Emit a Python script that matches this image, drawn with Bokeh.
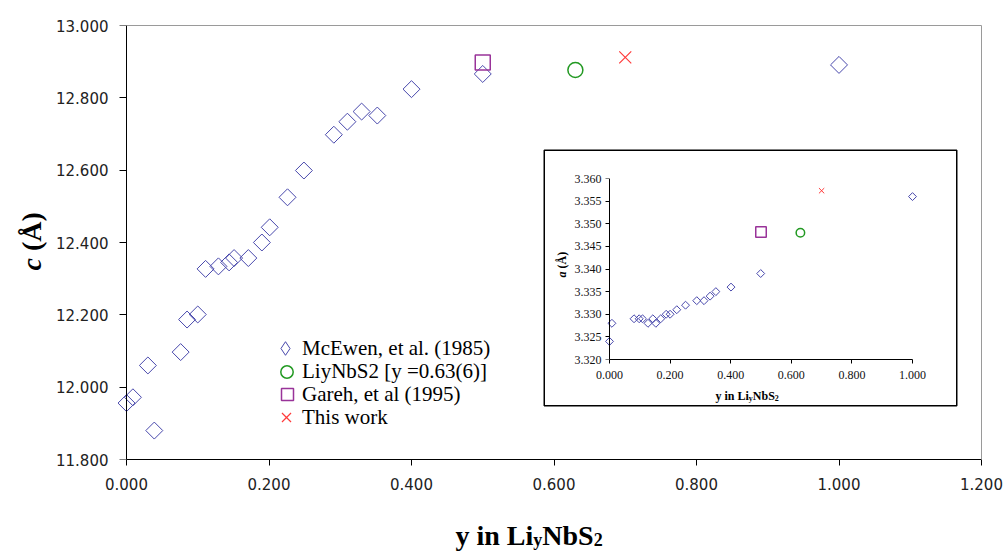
import numpy as np
from bokeh.plotting import figure
from bokeh.models import (FixedTicker, PrintfTickFormatter, Legend, LegendItem, Label,
                          BoxAnnotation, GridBox, LinearAxis, Range1d)
from bokeh.embed import file_html
from bokeh.resources import INLINE

# ---------------- data (main chart) ----------------
mc_y = [0.000, 0.009, 0.030, 0.039, 0.076, 0.085, 0.100, 0.111, 0.129, 0.144, 0.151, 0.171,
        0.190, 0.201, 0.226, 0.249, 0.291, 0.310, 0.330, 0.352, 0.400, 0.500, 1.000]
mc_c = [11.956, 11.972, 12.060, 11.880, 12.097, 12.187, 12.201, 12.327, 12.334, 12.345, 12.357,
        12.357, 12.400, 12.442, 12.525, 12.599, 12.698, 12.734, 12.762, 12.751, 12.824, 12.866, 12.891]
li_y = [0.630]
li_c = [12.877]
ga_y = [0.500]
ga_c = [12.898]
tw_y = [0.700]
tw_c = [12.912]

# ---------------- data (inset) ----------------
in_mc_y = [0.000, 0.008, 0.081, 0.098, 0.109, 0.127, 0.143, 0.153, 0.169, 0.187, 0.200, 0.222,
           0.251, 0.288, 0.312, 0.332, 0.351, 0.401, 0.499, 1.000]
in_mc_a = [3.324, 3.328, 3.329, 3.329, 3.329, 3.328, 3.329, 3.328, 3.329, 3.330, 3.330, 3.331,
           3.332, 3.333, 3.333, 3.334, 3.335, 3.336, 3.339, 3.356]
in_li_y = [0.630]
in_li_a = [3.348]
in_ga_y = [0.500]
in_ga_a = [3.3482]
in_tw_y = [0.700]
in_tw_a = [3.3573]

# ---------------- ticks / labels ----------------
x_ticks = [0.0, 0.2, 0.4, 0.6, 0.8, 1.0, 1.2]
c_ticks = [11.8, 12.0, 12.2, 12.4, 12.6, 12.8, 13.0]
in_x_ticks = [0.0, 0.2, 0.4, 0.6, 0.8, 1.0]
in_a_ticks = [3.320, 3.325, 3.330, 3.335, 3.340, 3.345, 3.350, 3.355, 3.360]
legend_labels = ["McEwen, et al. (1985)", "LiyNbS2 [y =0.63(6)]", "Gareh, et al (1995)", "This work"]

MC = "#4848ac"
LI = "#229922"
GA = "#993399"
TW = "#ff3b3b"
SERIF = "Liberation Serif"
SANS = "DejaVu Sans"

OFF = 8            # page offset of the canvases (leading grid track)

# ---------------- main figure ----------------
W, H = 996, 545
ML, MR, MT, MB = 108, 23, 17, 94
XU = 712.5                       # px per unit of y (Li content)
x_pad = 10 / XU
p = figure(width=W, height=H, x_range=(-x_pad, 1.2), y_range=(11.8, 13.0),
           min_border_left=ML, min_border_right=MR, min_border_top=MT, min_border_bottom=MB,
           output_backend="svg", toolbar_location=None)
p.background_fill_color = "white"
p.border_fill_color = "white"
p.outline_line_color = None
p.xgrid.grid_line_color = None
p.ygrid.grid_line_color = None

xa = p.xaxis[0]
ya = p.yaxis[0]
for ax in (xa, ya):
    ax.major_tick_in = 0
    ax.minor_tick_in = 0
    ax.minor_tick_out = 0
    ax.major_label_text_font = SANS
    ax.major_label_text_font_size = "15px"
    ax.major_label_text_color = "#222222"
    ax.formatter = PrintfTickFormatter(format="%.3f")
xa.axis_line_color = "black"
xa.major_tick_line_color = "black"
xa.ticker = FixedTicker(ticks=x_ticks)
xa.bounds = (0, 1.2)
xa.major_tick_out = 6
xa.major_label_standoff = 12
# left axis at the frame edge: labels only
ya.ticker = FixedTicker(ticks=c_ticks)
ya.axis_line_color = None
ya.major_tick_line_color = None
ya.major_tick_out = 0
ya.major_label_standoff = 8
# axis line + ticks at y = 0
y_line = LinearAxis(ticker=FixedTicker(ticks=c_ticks), fixed_location=0, axis_line_color="black",
                    major_tick_line_color="black", major_tick_out=7, major_tick_in=0,
                    minor_tick_out=0, minor_tick_in=0, major_label_text_font_size="1px",
                    major_label_text_alpha=0, major_label_standoff=0)
p.add_layout(y_line, "left")

top_ax = LinearAxis(ticker=FixedTicker(ticks=[]), axis_line_color="#9a9a9a", major_tick_out=0,
                    major_tick_in=0, minor_tick_out=0, minor_tick_in=0, bounds=(0, 1.2),
                    major_label_text_alpha=0)
right_ax = LinearAxis(ticker=FixedTicker(ticks=[]), axis_line_color="#9a9a9a", major_tick_out=0,
                      major_tick_in=0, minor_tick_out=0, minor_tick_in=0,
                      major_label_text_alpha=0)
p.add_layout(top_ax, "above")
p.add_layout(right_ax, "right")

# frame geometry in page pixels
FL_PAGE = OFF + ML
FB_PAGE = OFF + H - MB
FT_PAGE = OFF + MT
X0_PAGE = FL_PAGE + x_pad * XU
YU = (FB_PAGE - FT_PAGE) / 1.2


def mx(px):
    return (px - X0_PAGE) / XU


def my(py):
    return 13.0 - (py - FT_PAGE) / YU


# inset panel (white, black border)
p.add_layout(BoxAnnotation(left=mx(543.75), right=mx(956.25), top=my(149.75), bottom=my(405.25),
                           fill_color="white", fill_alpha=1.0, line_color="black", line_alpha=1.0,
                           line_width=1.5))

r_mc = p.scatter(mc_y, mc_c, marker="square", size=12, angle=np.pi / 4, fill_color=None,
                 line_color=MC, line_width=1)
r_li = p.scatter(li_y, li_c, marker="circle", size=15, fill_color=None, line_color=LI, line_width=1.5)
r_ga = p.scatter(ga_y, ga_c, marker="square", size=15, fill_color=None, line_color=GA, line_width=1.5)
r_tw = p.scatter(tw_y, tw_c, marker="x", size=17, line_color=TW, line_width=1.2)
# hidden twin of the McEwen series, used only as its legend key (legend glyphs ignore rotation)
r_mc_key = p.scatter(mc_y, mc_c, marker="diamond", fill_color=None, line_color=MC, line_width=1,
                     visible=False)

leg_specs = [(r_mc_key, legend_labels[0], 34), (r_li, legend_labels[1], 31),
             (r_ga, legend_labels[2], 30), (r_tw, legend_labels[3], 32)]
row_y = [348, 371, 394, 417]
TEXT_X = 302
for (r, lab, g), cy in zip(leg_specs, row_y):
    leg = Legend(items=[LegendItem(label=lab, renderers=[r])],
                 location=(TEXT_X - g - FL_PAGE, FB_PAGE - (cy + g / 2)),
                 glyph_width=g, glyph_height=g, label_height=g, label_standoff=0,
                 padding=0, margin=0, spacing=0, border_line_color=None,
                 background_fill_alpha=0, label_text_font=SERIF, label_text_font_size="21px",
                 label_text_color="black")
    p.add_layout(leg)

# ---------------- inset figure ----------------
IW, IH = 414, 257
IPX, IPY = 543, 149
IXU = 303.0
ipad = 6 / IXU
IL, IT, IB = 60, 29, 47
IR = IW - IL - int(round((1.0 + 2 * ipad) * IXU))
ins = figure(width=IW, height=IH, x_range=(-ipad, 1.0 + ipad), y_range=(3.320, 3.360),
             min_border_left=IL, min_border_right=IR, min_border_top=IT, min_border_bottom=IB,
             output_backend="svg", toolbar_location=None,
             background_fill_color=None, border_fill_color=None)
ins.outline_line_color = None
ins.xgrid.grid_line_color = None
ins.ygrid.grid_line_color = None
ixa = ins.xaxis[0]
iya = ins.yaxis[0]
for ax in (ixa, iya):
    ax.major_tick_in = 0
    ax.minor_tick_in = 0
    ax.minor_tick_out = 0
    ax.major_label_text_font = SERIF
    ax.major_label_text_font_size = "12px"
    ax.major_label_text_color = "#111111"
    ax.formatter = PrintfTickFormatter(format="%.3f")
ixa.axis_line_color = "black"
ixa.major_tick_line_color = "black"
ixa.major_tick_out = 4
ixa.ticker = FixedTicker(ticks=in_x_ticks)
ixa.bounds = (0, 1.0)
ixa.major_label_standoff = 7
iya.ticker = FixedTicker(ticks=in_a_ticks)
iya.axis_line_color = None
iya.major_tick_line_color = None
iya.major_tick_out = 0
iya.major_label_standoff = 2
iy_line = LinearAxis(ticker=FixedTicker(ticks=in_a_ticks), fixed_location=0, axis_line_color="black",
                     major_tick_line_color="black", major_tick_out=4, major_tick_in=0,
                     minor_tick_out=0, minor_tick_in=0, major_label_text_font_size="1px",
                     major_label_text_alpha=0, major_label_standoff=0)
ins.add_layout(iy_line, "left")

ins.scatter(in_mc_y, in_mc_a, marker="square", size=5.6, angle=np.pi / 4, fill_color=None,
            line_color=MC, line_width=1)
ins.scatter(in_li_y, in_li_a, marker="circle", size=8.5, fill_color=None, line_color=LI, line_width=1.5)
ins.scatter(in_ga_y, in_ga_a, marker="square", size=10.5, fill_color=None, line_color=GA, line_width=1.5)
ins.scatter(in_tw_y, in_tw_a, marker="x", size=7.5, line_color=TW, line_width=1)

# ---------------- transparent overlay for axis titles (page pixel coordinates) ----------------
OW, OH = OFF + W, OFF + H
ov = figure(width=OW, height=OH, x_range=Range1d(0, OW), y_range=Range1d(0, OH),
            x_axis_type=None, y_axis_type=None, min_border=0,
            output_backend="svg", toolbar_location=None,
            background_fill_color=None, border_fill_color=None)
ov.outline_line_color = None


def title_label(txt, px, py, fs, style="bold", angle=0.0, baseline="alphabetic"):
    ov.add_layout(Label(x=px, y=OH - py, text=txt, angle=angle, text_align="left",
                        text_baseline=baseline, text_font=SERIF, text_font_size=fs,
                        text_font_style=style, text_color="black"))


# main x title: y in Li_y NbS_2
for txt, px, py, fs in [("y in Li", 455.0, 535, "28px"), ("y", 532.8, 539, "18px"),
                        ("NbS", 541.8, 535, "28px"), ("2", 593.2, 539, "18px")]:
    title_label(txt, px, py, fs)
# main y title: c (Å)
title_label("c", 31, 270, "28px", style="bold italic", angle=np.pi / 2, baseline="middle")
title_label("(Å)", 31, 250.6, "28px", angle=np.pi / 2, baseline="middle")
# inset titles
for txt, px, py, fs in [("y in Li", 715.0, 395, "12px"), ("y", 748.3, 397.5, "8px"),
                        ("NbS", 752.3, 395, "12px"), ("2", 774.3, 397.5, "8px")]:
    title_label(txt, px, py, fs)
title_label("a", 561, 277, "12px", style="bold italic", angle=np.pi / 2, baseline="middle")
title_label("(Å)", 561, 268, "12px", angle=np.pi / 2, baseline="middle")

# ---------------- overlay layout ----------------
rows = [f"{OFF}px", f"{IPY - OFF}px", f"{IH}px", f"{H - (IPY - OFF) - IH}px", "0px"]
cols = [f"{OFF}px", f"{IPX - OFF}px", f"{IW}px", f"{W - (IPX - OFF) - IW}px", "0px"]
layout = GridBox(children=[(p, 1, 1, 3, 3), (ins, 2, 2, 1, 1), (ov, 0, 0, 5, 5)],
                 rows=rows, cols=cols)

open("out.html", "w").write(file_html(layout, INLINE))
